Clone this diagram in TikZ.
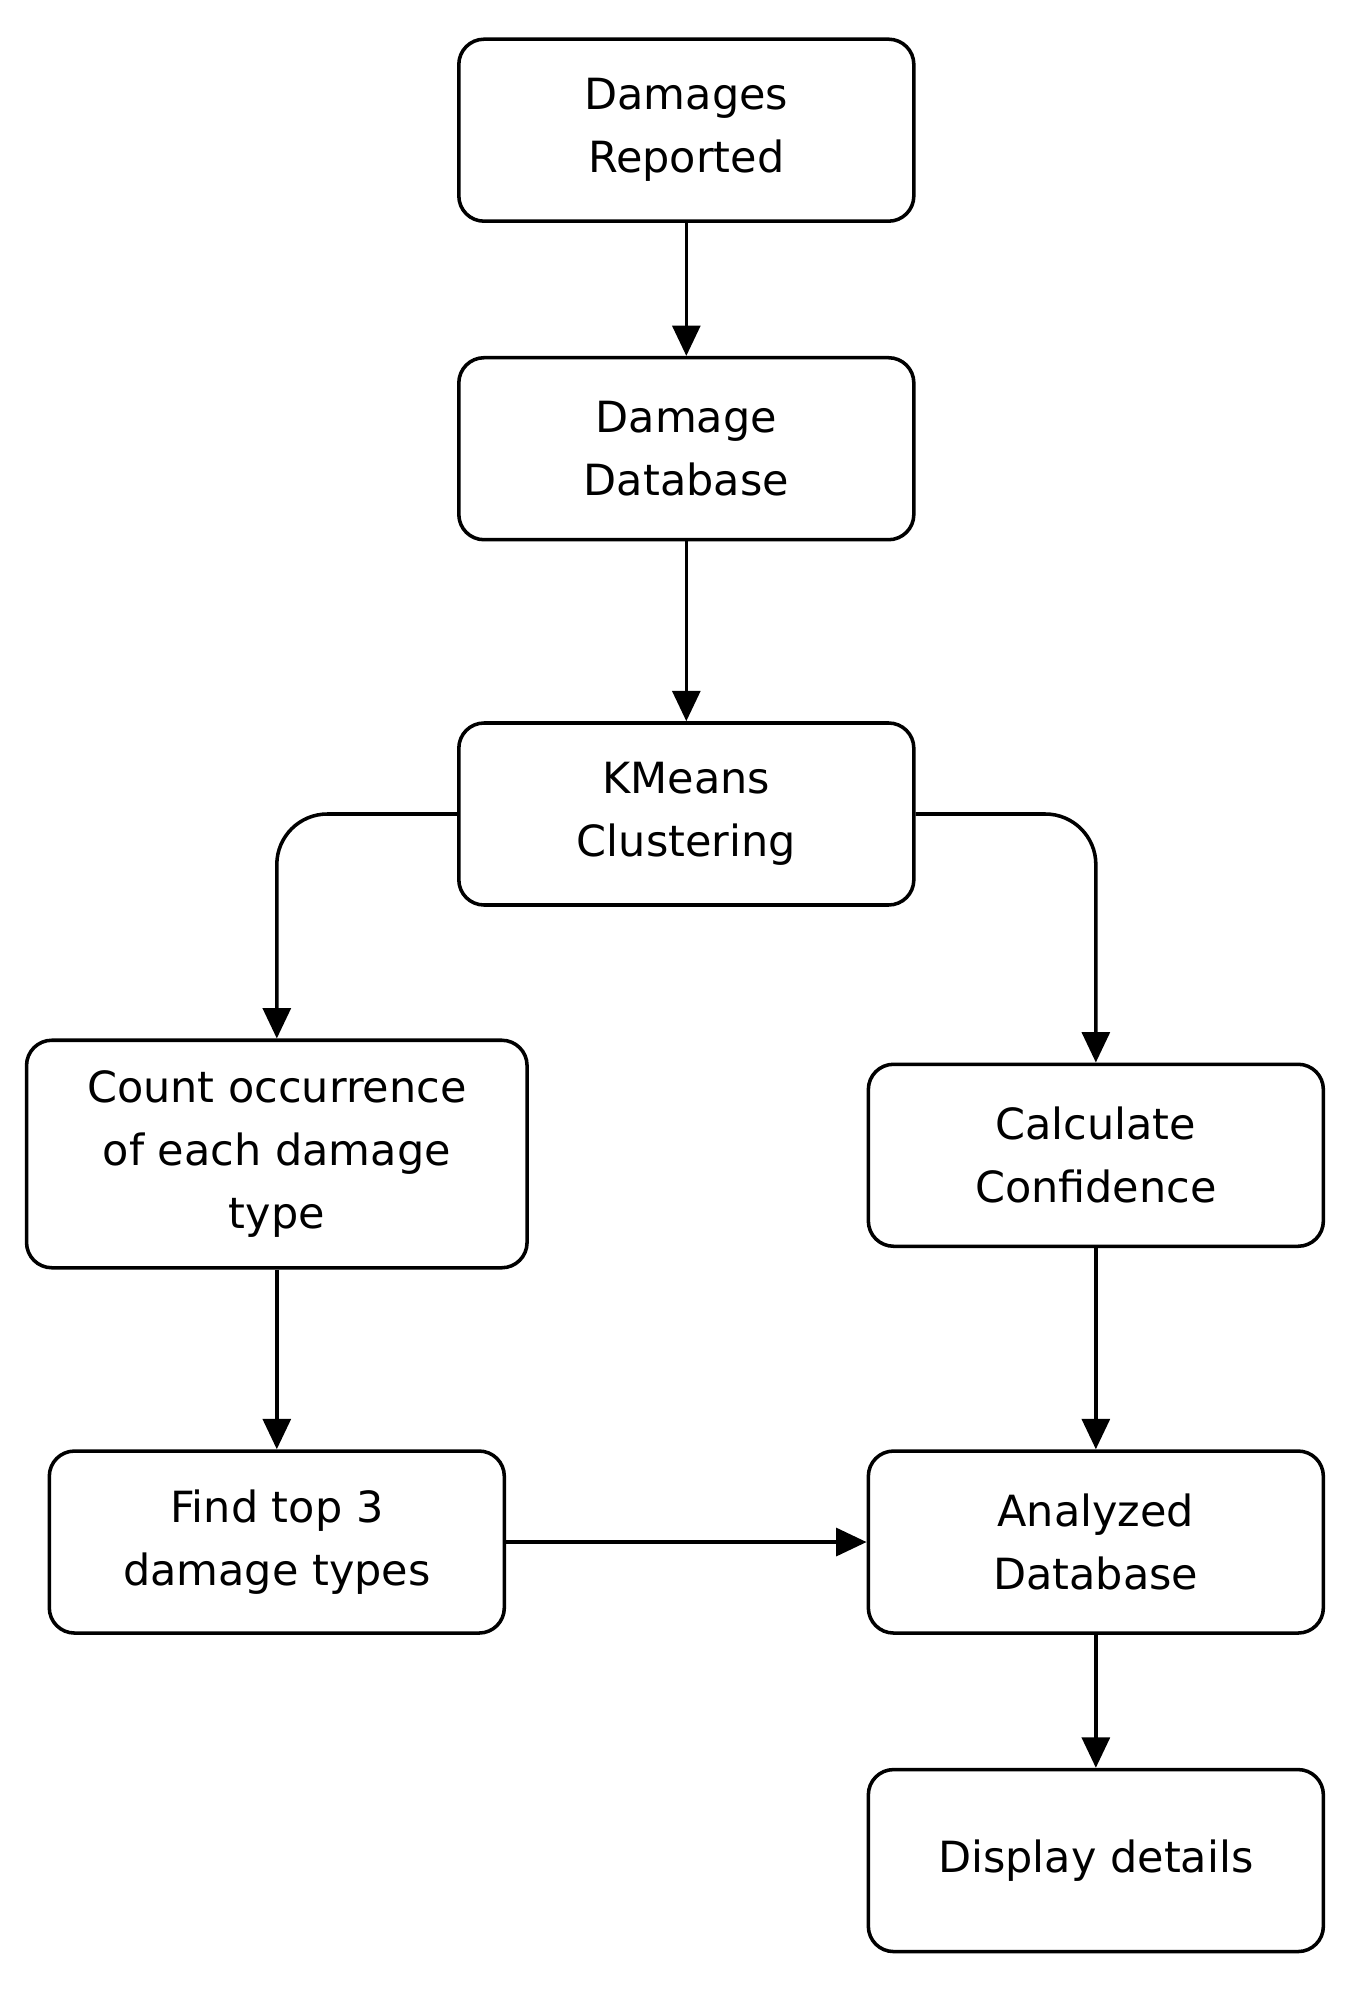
\documentclass[tikz,border=0pt]{standalone}
\usepackage{fontspec}
\setmainfont{DejaVu Sans}
\usetikzlibrary{arrows.meta}
\begin{document}
\begin{tikzpicture}[x=0.5pt,y=-0.5pt,
  box/.style={draw,line width=1.4pt,rounded corners=10pt,minimum width=180pt,minimum height=72pt,align=center,font=\fontsize{17}{25}\selectfont,inner sep=2pt},
  arr/.style={line width=1.4pt,-{Triangle[length=12pt,width=11pt]}}]
\useasboundingbox (0,0) rectangle (1080,1576);
\node[box] (a) at (543,103) {Damages\\Reported};
\node[box] (b) at (543,355) {Damage\\Database};
\node[box] (c) at (543,644) {KMeans\\Clustering};
\node[box,minimum width=198pt,minimum height=90pt] (d) at (219,913) {Count occurrence\\of each damage\\type};
\node[box] (e) at (867,914) {Calculate\\Confidence};
\node[box] (f) at (219,1220) {Find top 3\\damage types};
\node[box] (g) at (867,1220) {Analyzed\\Database};
\node[box] (h) at (867,1472) {Display details};
\draw[arr] (a) -- (b);
\draw[arr] (b) -- (c);
\draw[arr,rounded corners=20pt] (c.west) -| (d.north);
\draw[arr,rounded corners=20pt] (c.east) -| (e.north);
\draw[arr] (d) -- (f);
\draw[arr] (e) -- (g);
\draw[arr] (f) -- (g);
\draw[arr] (g) -- (h);
\end{tikzpicture}
\end{document}
